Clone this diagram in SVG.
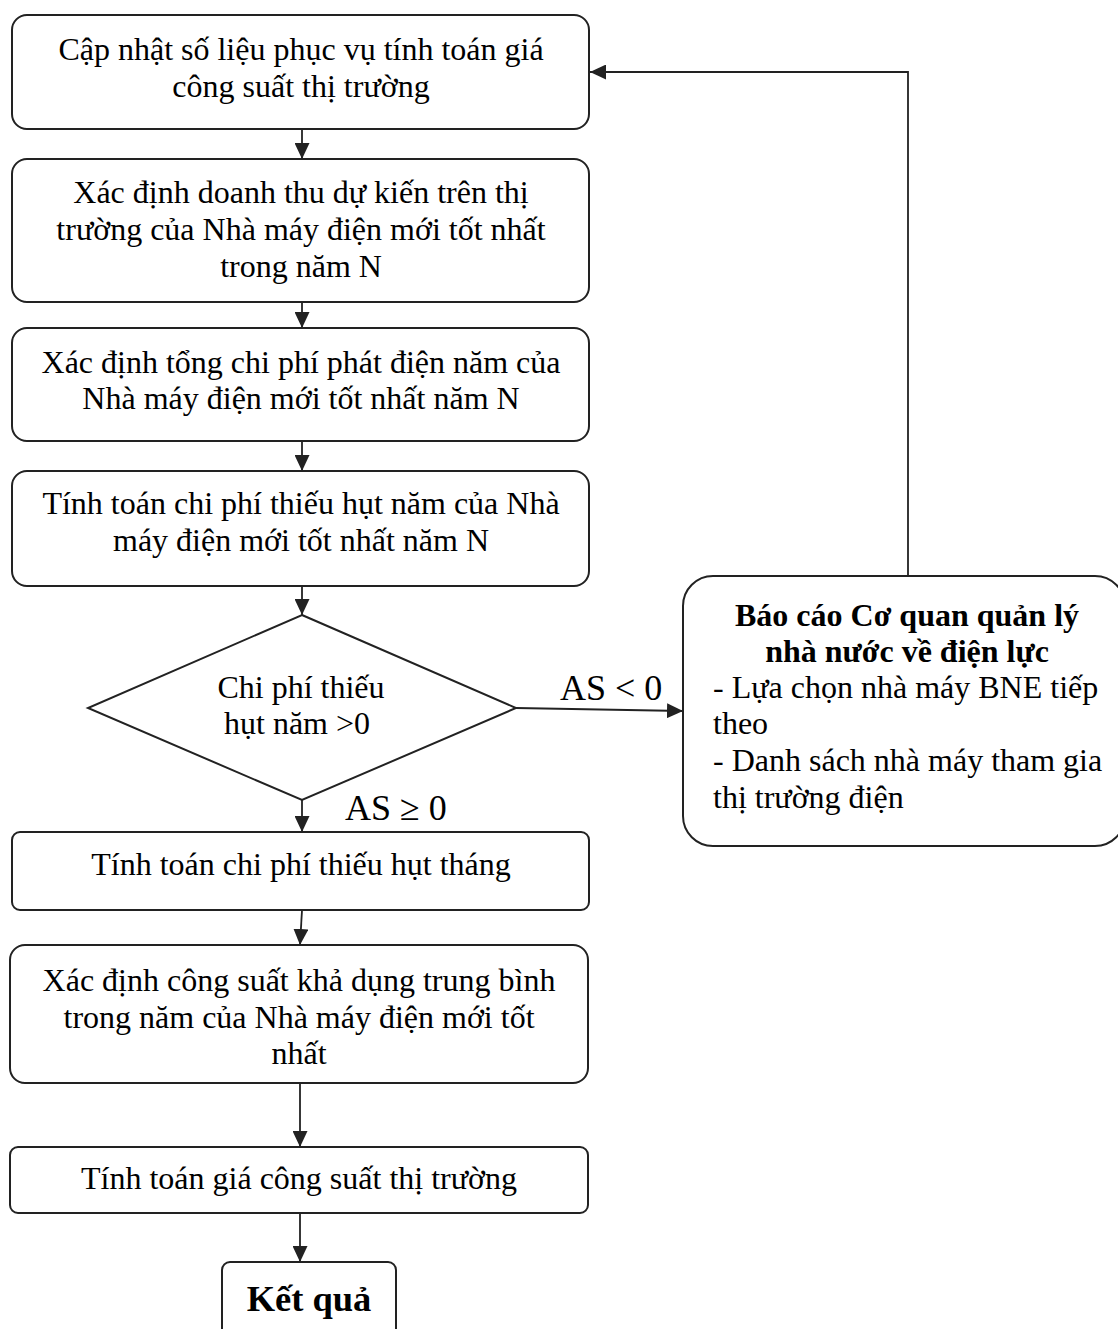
<svg xmlns="http://www.w3.org/2000/svg" width="1118" height="1329" viewBox="0 0 1118 1329">
<style>
.box{fill:#fff;stroke:#222;stroke-width:2}
.ln{fill:none;stroke:#222;stroke-width:1.8}
text{font-family:"Liberation Serif","Times New Roman",serif;fill:#000}
.t{font-size:32px;text-anchor:middle}
.tl{font-size:32px}
.b{font-size:32px;font-weight:bold;text-anchor:middle}
.lab{font-size:36px}
.res{font-size:36.5px;font-weight:bold;text-anchor:middle}
</style>
<defs>
<marker id="ah" markerUnits="userSpaceOnUse" markerWidth="16" markerHeight="15" refX="16" refY="7.5" orient="auto">
<path d="M0,0 L16,7.5 L0,15 z" fill="#222"/>
</marker>
</defs>
<rect width="1118" height="1329" fill="#fff"/>
<g id="connectors">
<line class="ln" x1="302" y1="129" x2="302" y2="159" marker-end="url(#ah)"/>
<line class="ln" x1="302" y1="302" x2="302" y2="328" marker-end="url(#ah)"/>
<line class="ln" x1="302" y1="441" x2="302" y2="471" marker-end="url(#ah)"/>
<line class="ln" x1="302" y1="586" x2="302" y2="615" marker-end="url(#ah)"/>
<line class="ln" x1="302" y1="800" x2="302" y2="832" marker-end="url(#ah)"/>
<line class="ln" x1="302" y1="910" x2="300" y2="945" marker-end="url(#ah)"/>
<line class="ln" x1="300" y1="1083" x2="300" y2="1147" marker-end="url(#ah)"/>
<line class="ln" x1="300" y1="1213" x2="300" y2="1262" marker-end="url(#ah)"/>
<line class="ln" x1="516" y1="708" x2="683" y2="711" marker-end="url(#ah)"/>
<polyline class="ln" points="908,576 908,72 590,72" marker-end="url(#ah)"/>
<text class="lab" x="560" y="700">AS &lt; 0</text>
<text class="lab" x="345" y="820">AS ≥ 0</text>
</g>
<g id="n1">
<rect class="box" x="12" y="15" width="577" height="114" rx="15"/>
<text class="t" x="301" y="60">Cập nhật số liệu phục vụ tính toán giá</text>
<text class="t" x="301" y="97">công suất thị trường</text>
</g>
<g id="n2">
<rect class="box" x="12" y="159" width="577" height="143" rx="15"/>
<text class="t" x="301" y="203">Xác định doanh thu dự kiến trên thị</text>
<text class="t" x="301" y="240">trường của Nhà máy điện mới tốt nhất</text>
<text class="t" x="301" y="277">trong năm N</text>
</g>
<g id="n3">
<rect class="box" x="12" y="328" width="577" height="113" rx="15"/>
<text class="t" x="301" y="373">Xác định tổng chi phí phát điện năm của</text>
<text class="t" x="301" y="409">Nhà máy điện mới tốt nhất năm N</text>
</g>
<g id="n4">
<rect class="box" x="12" y="471" width="577" height="115" rx="15"/>
<text class="t" x="301" y="514">Tính toán chi phí thiếu hụt năm của Nhà</text>
<text class="t" x="301" y="551">máy điện mới tốt nhất năm N</text>
</g>
<g id="n5">
<polygon class="box" points="302,615 516,708 302,800 88,708"/>
<text class="t" x="301" y="698">Chi phí thiếu</text>
<text class="t" x="297" y="734">hụt năm &gt;0</text>
</g>
<g id="n6">
<rect class="box" x="12" y="832" width="577" height="78" rx="8"/>
<text class="t" x="301" y="875">Tính toán chi phí thiếu hụt tháng</text>
</g>
<g id="n7">
<rect class="box" x="10" y="945" width="578" height="138" rx="15"/>
<text class="t" x="299" y="991">Xác định công suất khả dụng trung bình</text>
<text class="t" x="299" y="1028">trong năm của Nhà máy điện mới tốt</text>
<text class="t" x="299" y="1064">nhất</text>
</g>
<g id="n8">
<rect class="box" x="10" y="1147" width="578" height="66" rx="8"/>
<text class="t" x="299" y="1189">Tính toán giá công suất thị trường</text>
</g>
<g id="n9">
<rect class="box" x="222" y="1262" width="174" height="90" rx="8"/>
<text class="res" x="309" y="1311">Kết quả</text>
</g>
<g id="n10">
<rect class="box" x="683" y="576" width="442" height="270" rx="30"/>
<text class="b" x="907" y="626">Báo cáo Cơ quan quản lý</text>
<text class="b" x="907" y="662">nhà nước về điện lực</text>
<text class="tl" x="713" y="698">- Lựa chọn nhà máy BNE tiếp</text>
<text class="tl" x="713" y="734">theo</text>
<text class="tl" x="713" y="771">- Danh sách nhà máy tham gia</text>
<text class="tl" x="713" y="808">thị trường điện</text>
</g>
</svg>
